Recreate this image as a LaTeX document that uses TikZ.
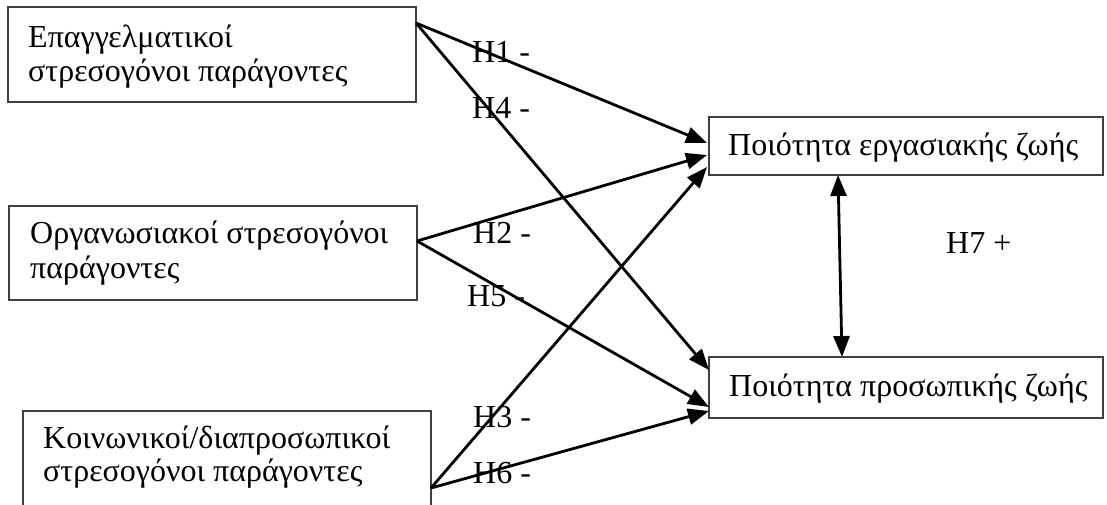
\documentclass[tikz,border=0pt]{standalone}
\usepackage{fontspec}
\setmainfont{Liberation Serif}
\usetikzlibrary{arrows.meta}
\tikzset{
  box/.style={draw=black!75, line width=1.2pt},
  txt/.style={anchor=base west, inner sep=0pt, font=\fontsize{32}{36}\selectfont},
  link/.style={line width=2.8pt, -{Triangle[length=21pt,width=16pt]}},
  duallink/.style={line width=2.8pt, {Triangle[length=21pt,width=16pt]}-{Triangle[length=21pt,width=16pt]}}
}
\begin{document}
\begin{tikzpicture}[x=1pt, y=-1pt]
\useasboundingbox (0,0) rectangle (1107,504);
\clip (0,0) rectangle (1107,504);

% stress factor boxes (left column)
\draw[box] (8,7) rectangle (416,102) node[coordinate] (boxA) {};
\draw[box] (9,206) rectangle (417,300) node[coordinate] (boxB) {};
\draw[box] (23,411) rectangle (431,520) node[coordinate] (boxC) {};

% outcome boxes (right column)
\draw[box] (709,117) rectangle (1103,175) node[coordinate] (boxW) {};
\draw[box] (709,357) rectangle (1103,418) node[coordinate] (boxP) {};

% box captions
\node[txt] (a1) at (28,47) {Επαγγελματικοί};
\node[txt] (a2) at (28,81) {στρεσογόνοι παράγοντες};
\node[txt] (b1) at (30,243) {Οργανωσιακοί στρεσογόνοι};
\node[txt] (b2) at (30,278) {παράγοντες};
\node[txt] (c1) at (43,448) {Κοινωνικοί/διαπροσωπικοί};
\node[txt] (c2) at (43,481) {στρεσογόνοι παράγοντες};
\node[txt] (w1) at (728,155) {Ποιότητα εργασιακής ζωής};
\node[txt] (p1) at (729,396) {Ποιότητα προσωπικής ζωής};

% connector end points on the box borders
\coordinate (outA) at (416,23);
\coordinate (outB) at (417,241);
\coordinate (outC) at (431,488);
\coordinate (inW1) at (707,143);
\coordinate (inW2) at (707,155);
\coordinate (inW3) at (707,167);
\coordinate (inP1) at (709,370);
\coordinate (inP2) at (709,407);
\coordinate (inP3) at (709,411);
\coordinate (wBot) at (838,175);
\coordinate (pTop) at (842,357);

% hypothesis labels
\node[txt] (h1) at (472,62) {H1 -};
\node[txt] (h4) at (472,118) {H4 -};
\node[txt] (h2) at (473,243) {H2 -};
\node[txt] (h5) at (467,306) {H5 -};
\node[txt] (h3) at (473,427) {H3 -};
\node[txt] (h6) at (473,483) {H6 -};
\node[txt] (h7) at (946,253) {H7 +};

% paths
\draw[link] (outA) -- (inW1);
\draw[link] (outA) -- (inP1);
\draw[link] (outB) -- (inW2);
\draw[link] (outB) -- (inP2);
\draw[link] (outC) -- (inW3);
\draw[link] (outC) -- (inP3);
\draw[duallink] (wBot) -- (pTop);
\end{tikzpicture}
\end{document}
